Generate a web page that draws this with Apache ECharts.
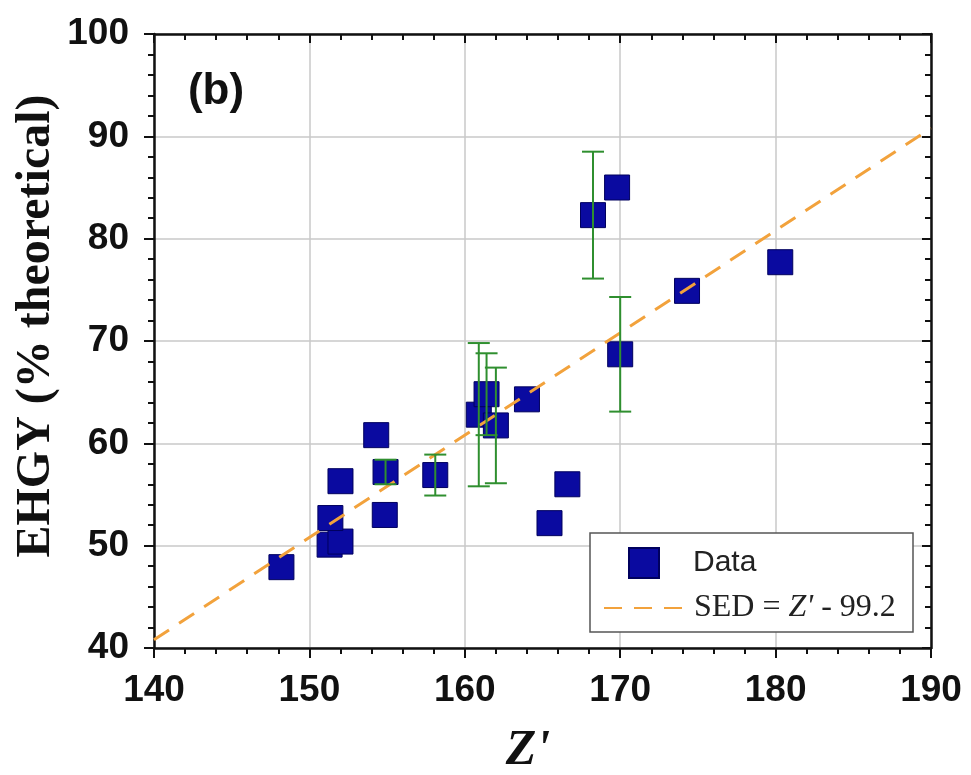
<!DOCTYPE html>
<html><head><meta charset="utf-8">
<script src="https://cdn.jsdelivr.net/npm/echarts@6/dist/echarts.min.js"></script>
<style>html,body{margin:0;padding:0;background:#fff}#c{width:971px;height:775px}</style>
</head><body><div id="c"></div>
<script>
// Data points (Z', EHGY %)
const zPrime = [148.2, 151.3, 152.0, 151.35, 152.0, 154.3, 154.9, 154.85, 158.1, 160.9, 161.4, 162.0, 164.0, 165.45, 166.6, 168.25, 169.8, 170.0, 174.3, 180.3];
const ehgy   = [47.9, 50.1, 50.4, 52.7, 56.3, 60.8, 57.2, 53.0, 56.9, 62.8, 64.8, 61.75, 64.3, 52.2, 56.0, 82.3, 85.0, 68.7, 74.9, 77.7];
// Error bars
const errX     = [154.9, 158.1, 160.9, 161.4, 162.0, 168.25, 170.0];
const errY     = [57.2, 56.9, 62.8, 64.8, 61.75, 82.3, 68.7];
const errDelta = [1.2, 2.0, 7.0, 4.0, 5.65, 6.2, 5.6];
// Fit line SED = Z' - 99.2
const fitX = [140, 190];
const fitY = [40.8, 90.8];

const fitName = "SED = Z' - 99.2";
const chart = echarts.init(document.getElementById('c'), null, {renderer: 'canvas'});
const tickFont = {fontFamily: 'Liberation Sans, Arial, sans-serif', fontWeight: 'bold', fontSize: 37, color: '#111'};
const gridLine = {show: true, lineStyle: {color: '#c9c9c9', width: 1.5}};
const axLine = {show: true, onZero: false, lineStyle: {color: '#111', width: 2.5}};

chart.setOption({
  animation: false,
  backgroundColor: '#fff',
  grid: {left: 154, right: 40, top: 34, bottom: 127, containLabel: false, outerBoundsMode: 'none'},
  xAxis: [
    {type: 'value', min: 140, max: 190, interval: 10, position: 'bottom',
     axisLine: axLine, splitLine: gridLine,
     axisTick: {show: true, inside: false, length: 10, lineStyle: {color: '#111', width: 2}},
     minorTick: {show: true, splitNumber: 5, length: 6, lineStyle: {color: '#111', width: 2}},
     axisLabel: Object.assign({margin: 24}, tickFont)},
    {type: 'value', min: 140, max: 190, interval: 10, position: 'top',
     axisLine: axLine, splitLine: {show: false},
     axisTick: {show: true, inside: true, length: 9, lineStyle: {color: '#111', width: 2}},
     minorTick: {show: true, splitNumber: 5, length: 6, lineStyle: {color: '#111', width: 2}},
     axisLabel: {show: false}}
  ],
  yAxis: [
    {type: 'value', min: 40, max: 100, interval: 10, position: 'left',
     axisLine: axLine, splitLine: gridLine,
     axisTick: {show: true, inside: false, length: 10, lineStyle: {color: '#111', width: 2}},
     minorTick: {show: true, splitNumber: 5, length: 6, lineStyle: {color: '#111', width: 2}},
     axisLabel: Object.assign({margin: 25}, tickFont)},
    {type: 'value', min: 40, max: 100, interval: 10, position: 'right',
     axisLine: axLine, splitLine: {show: false},
     axisTick: {show: true, inside: true, length: 9, lineStyle: {color: '#111', width: 2}},
     minorTick: {show: true, splitNumber: 5, length: 6, lineStyle: {color: '#111', width: 2}},
     axisLabel: {show: false}}
  ],
  legend: [
    {data: ['Data'], left: 628, top: 547, orient: 'vertical', itemWidth: 30, itemHeight: 30, icon: 'rect',
     padding: 0, textStyle: {fontFamily: 'Liberation Sans, Arial, sans-serif', fontSize: 30, color: '#222', padding: [0, 0, 0, 29]}},
    {data: [{name: fitName, itemStyle: {opacity: 0}}], left: 603, top: 592, orient: 'vertical', itemWidth: 80, itemHeight: 20,
     padding: 0,
     itemStyle: {opacity: 0},
     formatter: function () { return '{a|SED = }{b|Z\'}{a| - 99.2}'; },
     textStyle: {padding: [0, 0, 0, 5], rich: {
       a: {fontFamily: 'Liberation Serif, Times New Roman, serif', fontSize: 32, color: '#222'},
       b: {fontFamily: 'Liberation Serif, Times New Roman, serif', fontSize: 32, fontStyle: 'italic', color: '#222'}
     }}}
  ],
  graphic: [
    {type: 'rect', z: 3, shape: {x: 590, y: 533, width: 323, height: 99},
     style: {fill: '#fff', stroke: '#555', lineWidth: 1.5}},
    {type: 'text', z: 5, x: 37, y: 326, rotation: Math.PI / 2,
     style: {text: 'EHGY (% theoretical)', fontFamily: 'Liberation Serif, Times New Roman, serif', fontWeight: 'bold', fontSize: 48, fill: '#111', align: 'center', verticalAlign: 'middle'}},
    {type: 'text', z: 5, x: 528, y: 751,
     style: {text: "Z'", fontFamily: 'Liberation Serif, Times New Roman, serif', fontWeight: 'bold', fontStyle: 'italic', fontSize: 50, fill: '#111', align: 'center', verticalAlign: 'middle'}},
    {type: 'text', z: 5, x: 216, y: 92,
     style: {text: '(b)', fontFamily: 'Liberation Sans, Arial, sans-serif', fontWeight: 'bold', fontSize: 44, fill: '#111', align: 'center', verticalAlign: 'middle'}}
  ],
  series: [
    {name: 'Data', type: 'scatter', z: 2, symbol: 'rect', symbolSize: 25,
     itemStyle: {color: '#0a0aa0', borderColor: '#00005e', borderWidth: 1, opacity: 1},
     data: zPrime.map((x, i) => [x, ehgy[i]])},
    {name: fitName, type: 'line', z: 3, symbol: 'none', showSymbol: false,
     lineStyle: {type: [18, 12], color: '#f2a23c', width: 3},
     itemStyle: {color: '#f2a23c'},
     data: fitX.map((x, i) => [x, fitY[i]])},
    {name: 'err', type: 'custom', z: 4,
     encode: {x: 0, y: [1, 2]},
     data: errX.map((x, i) => [x, errY[i] - errDelta[i], errY[i] + errDelta[i]]),
     renderItem: function (params, api) {
       const x = api.value(0), lo = api.value(1), hi = api.value(2);
       const p1 = api.coord([x, hi]), p2 = api.coord([x, lo]);
       const w = 11;
       const st = {stroke: '#2f8f2f', lineWidth: 2, fill: null};
       return {type: 'group', children: [
         {type: 'line', shape: {x1: p1[0], y1: p1[1], x2: p2[0], y2: p2[1]}, style: st},
         {type: 'line', shape: {x1: p1[0] - w, y1: p1[1], x2: p1[0] + w, y2: p1[1]}, style: st},
         {type: 'line', shape: {x1: p2[0] - w, y1: p2[1], x2: p2[0] + w, y2: p2[1]}, style: st}
       ]};
     }}
  ]
});
</script>
</body></html>
